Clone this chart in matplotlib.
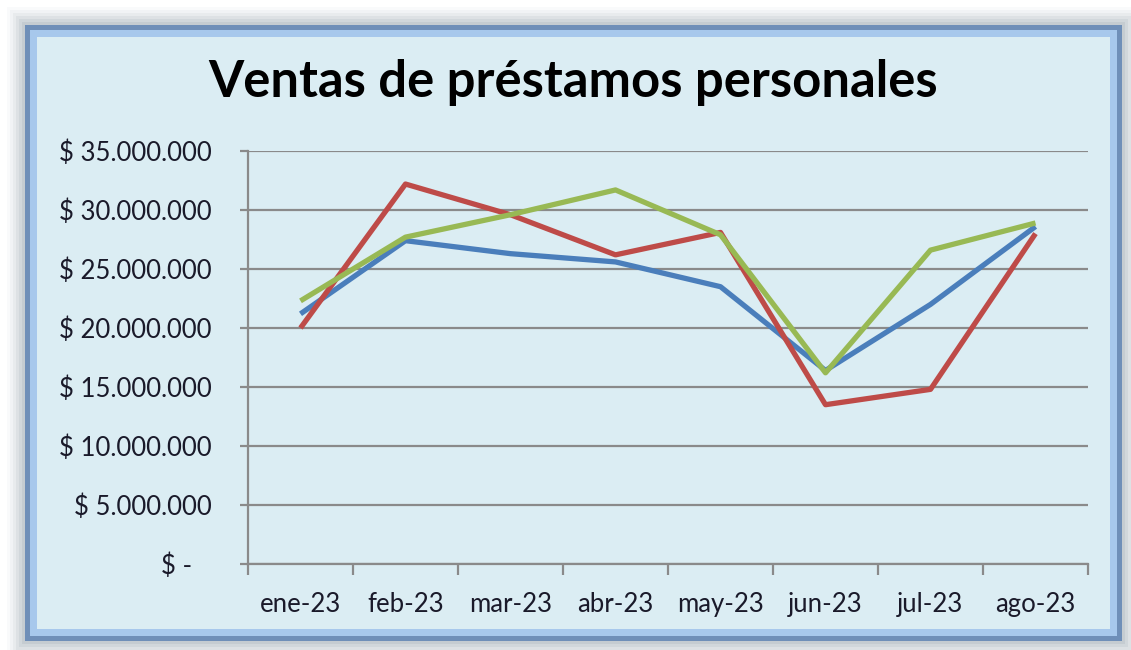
import matplotlib
matplotlib.use("Agg")
import matplotlib.pyplot as plt
from matplotlib.patches import Rectangle
from matplotlib.ticker import FuncFormatter

plt.rcParams['font.family'] = ['Lato', 'DejaVu Sans']

# datos
meses = ['ene-23', 'feb-23', 'mar-23', 'abr-23', 'may-23', 'jun-23', 'jul-23', 'ago-23']
serie_azul = [21.2e6, 27.4e6, 26.3e6, 25.6e6, 23.5e6, 16.4e6, 22.0e6, 28.6e6]
serie_roja = [20.0e6, 32.2e6, 29.6e6, 26.2e6, 28.1e6, 13.5e6, 14.8e6, 28.0e6]
serie_verde = [22.3e6, 27.7e6, 29.6e6, 31.7e6, 27.9e6, 16.2e6, 26.6e6, 28.9e6]
y_ticks = [0, 5e6, 10e6, 15e6, 20e6, 25e6, 30e6, 35e6]

W, H = 1131, 650
fig = plt.figure(figsize=(W / 100, H / 100), dpi=100)
fig.patch.set_facecolor('white')

# marco de fondo (estilo excel) en pixeles
bg = fig.add_axes([0, 0, 1, 1], zorder=-5)
bg.set_xlim(0, W)
bg.set_ylim(H, 0)
bg.axis('off')
# sombra difusa
for i, a in enumerate([0.04, 0.06, 0.08, 0.1, 0.12, 0.14]):
    d = 18 - i * 3
    bg.add_patch(Rectangle((25 - d, 25 - d), 1097 + 2 * d, 616 + 2 * d,
                           facecolor='#7f8f9a', edgecolor='none', alpha=a))
bg.add_patch(Rectangle((25, 25), 1097, 616, facecolor='#6f8fb8', edgecolor='none'))
bg.add_patch(Rectangle((30, 30), 1087, 606, facecolor='#a7c8ec', edgecolor='none'))
bg.add_patch(Rectangle((37, 37), 1073, 592, facecolor='#dbedf3', edgecolor='none'))

ax = fig.add_axes([248 / W, 1 - 564 / H, (1088 - 248) / W, (564 - 151) / H])
ax.set_facecolor('none')

x = range(len(meses))
ax.plot(x, serie_azul, color='#4a7ebb', lw=3.8, solid_capstyle='butt', zorder=3)
ax.plot(x, serie_roja, color='#be4b48', lw=3.8, solid_capstyle='butt', zorder=3)
ax.plot(x, serie_verde, color='#98b954', lw=3.8, solid_capstyle='butt', zorder=3)

ax.set_xlim(-0.5, len(meses) - 0.5)
ax.set_ylim(0, 35e6)

ax.set_yticks(y_ticks)
ax.yaxis.set_major_formatter(FuncFormatter(
    lambda v, p: '$ -   ' if v == 0 else '$ ' + f'{int(v):,}'.replace(',', '.')))
ax.grid(axis='y', color='#8a8a8a', lw=1.6)
ax.set_axisbelow(True)

# ticks del eje x en los limites de categoria, etiquetas al centro
ax.set_xticks([i - 0.5 for i in range(len(meses) + 1)])
ax.set_xticklabels([])
ax.set_xticks(list(x), minor=True)
ax.set_xticklabels(meses, minor=True)
ax.tick_params(axis='x', which='minor', length=0, pad=20, labelsize=18.5, labelcolor='#1a1a2a')
ax.tick_params(axis='x', which='major', length=8, width=1.6, color='#8a8a8a', direction='out')
ax.tick_params(axis='y', length=6, width=1.6, color='#8a8a8a', pad=20, labelsize=18.5,
               labelcolor='#1a1a2a')

for s in ['top', 'right']:
    ax.spines[s].set_visible(False)
for s in ['left', 'bottom']:
    ax.spines[s].set_color('#8a8a8a')
    ax.spines[s].set_linewidth(1.6)

fig.text(573 / W, 1 - 82 / H, 'Ventas de préstamos personales', ha='center', va='center',
         fontsize=36.5, fontweight='bold', color='black')

fig.savefig('out.png', dpi=100)
